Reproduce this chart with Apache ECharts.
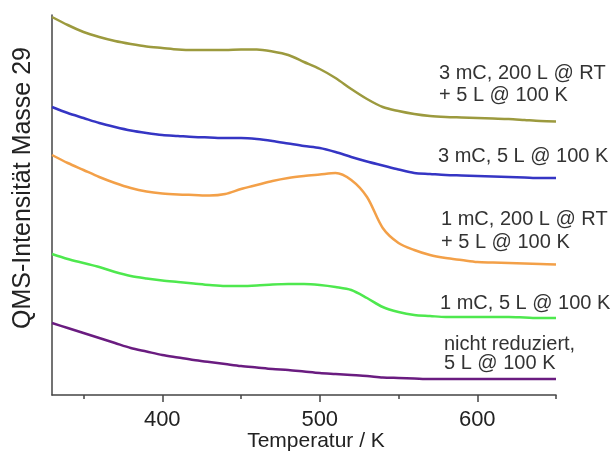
<!DOCTYPE html>
<html><head><meta charset="utf-8">
<script src="https://cdn.jsdelivr.net/npm/echarts@6/dist/echarts.min.js"></script>
<style>html,body{margin:0;padding:0;background:#fff}#c{width:613px;height:461px}</style>
</head><body><div id="c"></div>
<script>
const temps = [330,340,350,360,370,380,390,400,410,420,430,440,450,460,470,480,490,500,510,520,530,540,550,560,570,580,590,600,610,620,630,640,650];
const olive = [378,370,363,358,354,351,348.5,347,345.5,345,345,345,345.5,345.5,343.5,340,333,326,317,306,296,288,284,281,279,278,277.5,277,276.5,276,275,274,273.5];
const blue = [288,282,277,272,268,264.5,262,260,259,258,257.5,257,257,256,254,251.5,249,247,243,238,233.5,229.5,225.5,222,221,220,219.5,219,218.5,218,217.5,217,217];
const orange = [240,232,225,218,212,207,203.5,201.5,200.5,200,199.5,201,206,210,214,217,219,220.5,222,215,198,167,152,145,140,137,135,133,132.5,132,131.5,131,130.5];
const green = [141,136,132,128,123,119,116.5,114.5,113,111.5,110,109,109,109.5,110.5,111,111,110,108,105,97,88,83,80,79,78,78,78,78,78,77.5,77,77];
const purple = [72,67,62,57,52,47,43.5,40,37.5,35,33,31,29,27.5,26,25,23.5,22,21,20,19,17.5,17,16.5,16,16,16,16,16,16,16,16,16];
const majorTicks = [400,500,600];
const minorTicks = [350,450,550,650];
const seriesNames = ['3 mC, 200 L @ RT + 5 L @ 100 K','3 mC, 5 L @ 100 K','1 mC, 200 L @ RT + 5 L @ 100 K','1 mC, 5 L @ 100 K','nicht reduziert, 5 L @ 100 K'];
const seriesData = [olive, blue, orange, green, purple];
const colors = ['#9c9a3e','#3535c4','#f3a048','#4ee84e','#6a1c80'];
const font = 'Liberation Sans, Arial, sans-serif';

const chart = echarts.init(document.getElementById('c'), null, {renderer:'canvas'});
chart.setOption({
  animation:false,
  backgroundColor:'#fff',
  grid:{left:52, right:57, top:15, bottom:66},
  xAxis:[
    {type:'value', min:330, max:650, position:'bottom', splitLine:{show:false},
      axisLine:{show:true, lineStyle:{color:'#444', width:1.5}},
      axisTick:{show:true, length:7, lineStyle:{color:'#444', width:1.5}, customValues: majorTicks},
      axisLabel:{show:true, margin:14, fontSize:22, color:'#222', fontFamily:font, customValues: majorTicks}
    },
    {type:'value', min:330, max:650, position:'bottom', offset:0, splitLine:{show:false},
      axisLine:{show:false},
      axisTick:{show:true, length:4, lineStyle:{color:'#444', width:1.5}, customValues: minorTicks},
      axisLabel:{show:false}
    }
  ],
  yAxis:{type:'value', min:0, max:380, axisLine:{show:true, lineStyle:{color:'#444', width:1.5}},
    axisTick:{show:false}, axisLabel:{show:false}, splitLine:{show:false}},
  series: seriesData.map((d,i)=>({
    name:seriesNames[i], type:'line', xAxisIndex:0, showSymbol:false, symbol:'none', smooth:0.3,
    data: temps.map((t,j)=>[t,d[j]]),
    lineStyle:{color:colors[i], width:2.5}, itemStyle:{color:colors[i]}
  })),
  graphic:[
    {type:'text', x:316, y:441, style:{text:'Temperatur / K', font:'21px '+font, fill:'#222', align:'center', verticalAlign:'middle'}},
    {type:'text', x:23, y:188, rotation:Math.PI/2, style:{text:'QMS-Intensität Masse 29', font:'25px '+font, fill:'#222', align:'center', verticalAlign:'middle'}},
    {type:'text', left:439, top:62, style:{text:'3 mC, 200 L @ RT\n+ 5 L @ 100 K', font:'20px '+font, fill:'#333', lineHeight:22}},
    {type:'text', left:438, top:146, style:{text:'3 mC, 5 L @ 100 K', font:'20px '+font, fill:'#333'}},
    {type:'text', left:441, top:208, style:{text:'1 mC, 200 L @ RT\n+ 5 L @ 100 K', font:'20px '+font, fill:'#333', lineHeight:23}},
    {type:'text', left:440, top:293, style:{text:'1 mC, 5 L @ 100 K', font:'20px '+font, fill:'#333'}},
    {type:'text', left:444, top:334, style:{text:'nicht reduziert,\n5 L @ 100 K', font:'20px '+font, fill:'#333', lineHeight:19}}
  ]
});
</script></body></html>
